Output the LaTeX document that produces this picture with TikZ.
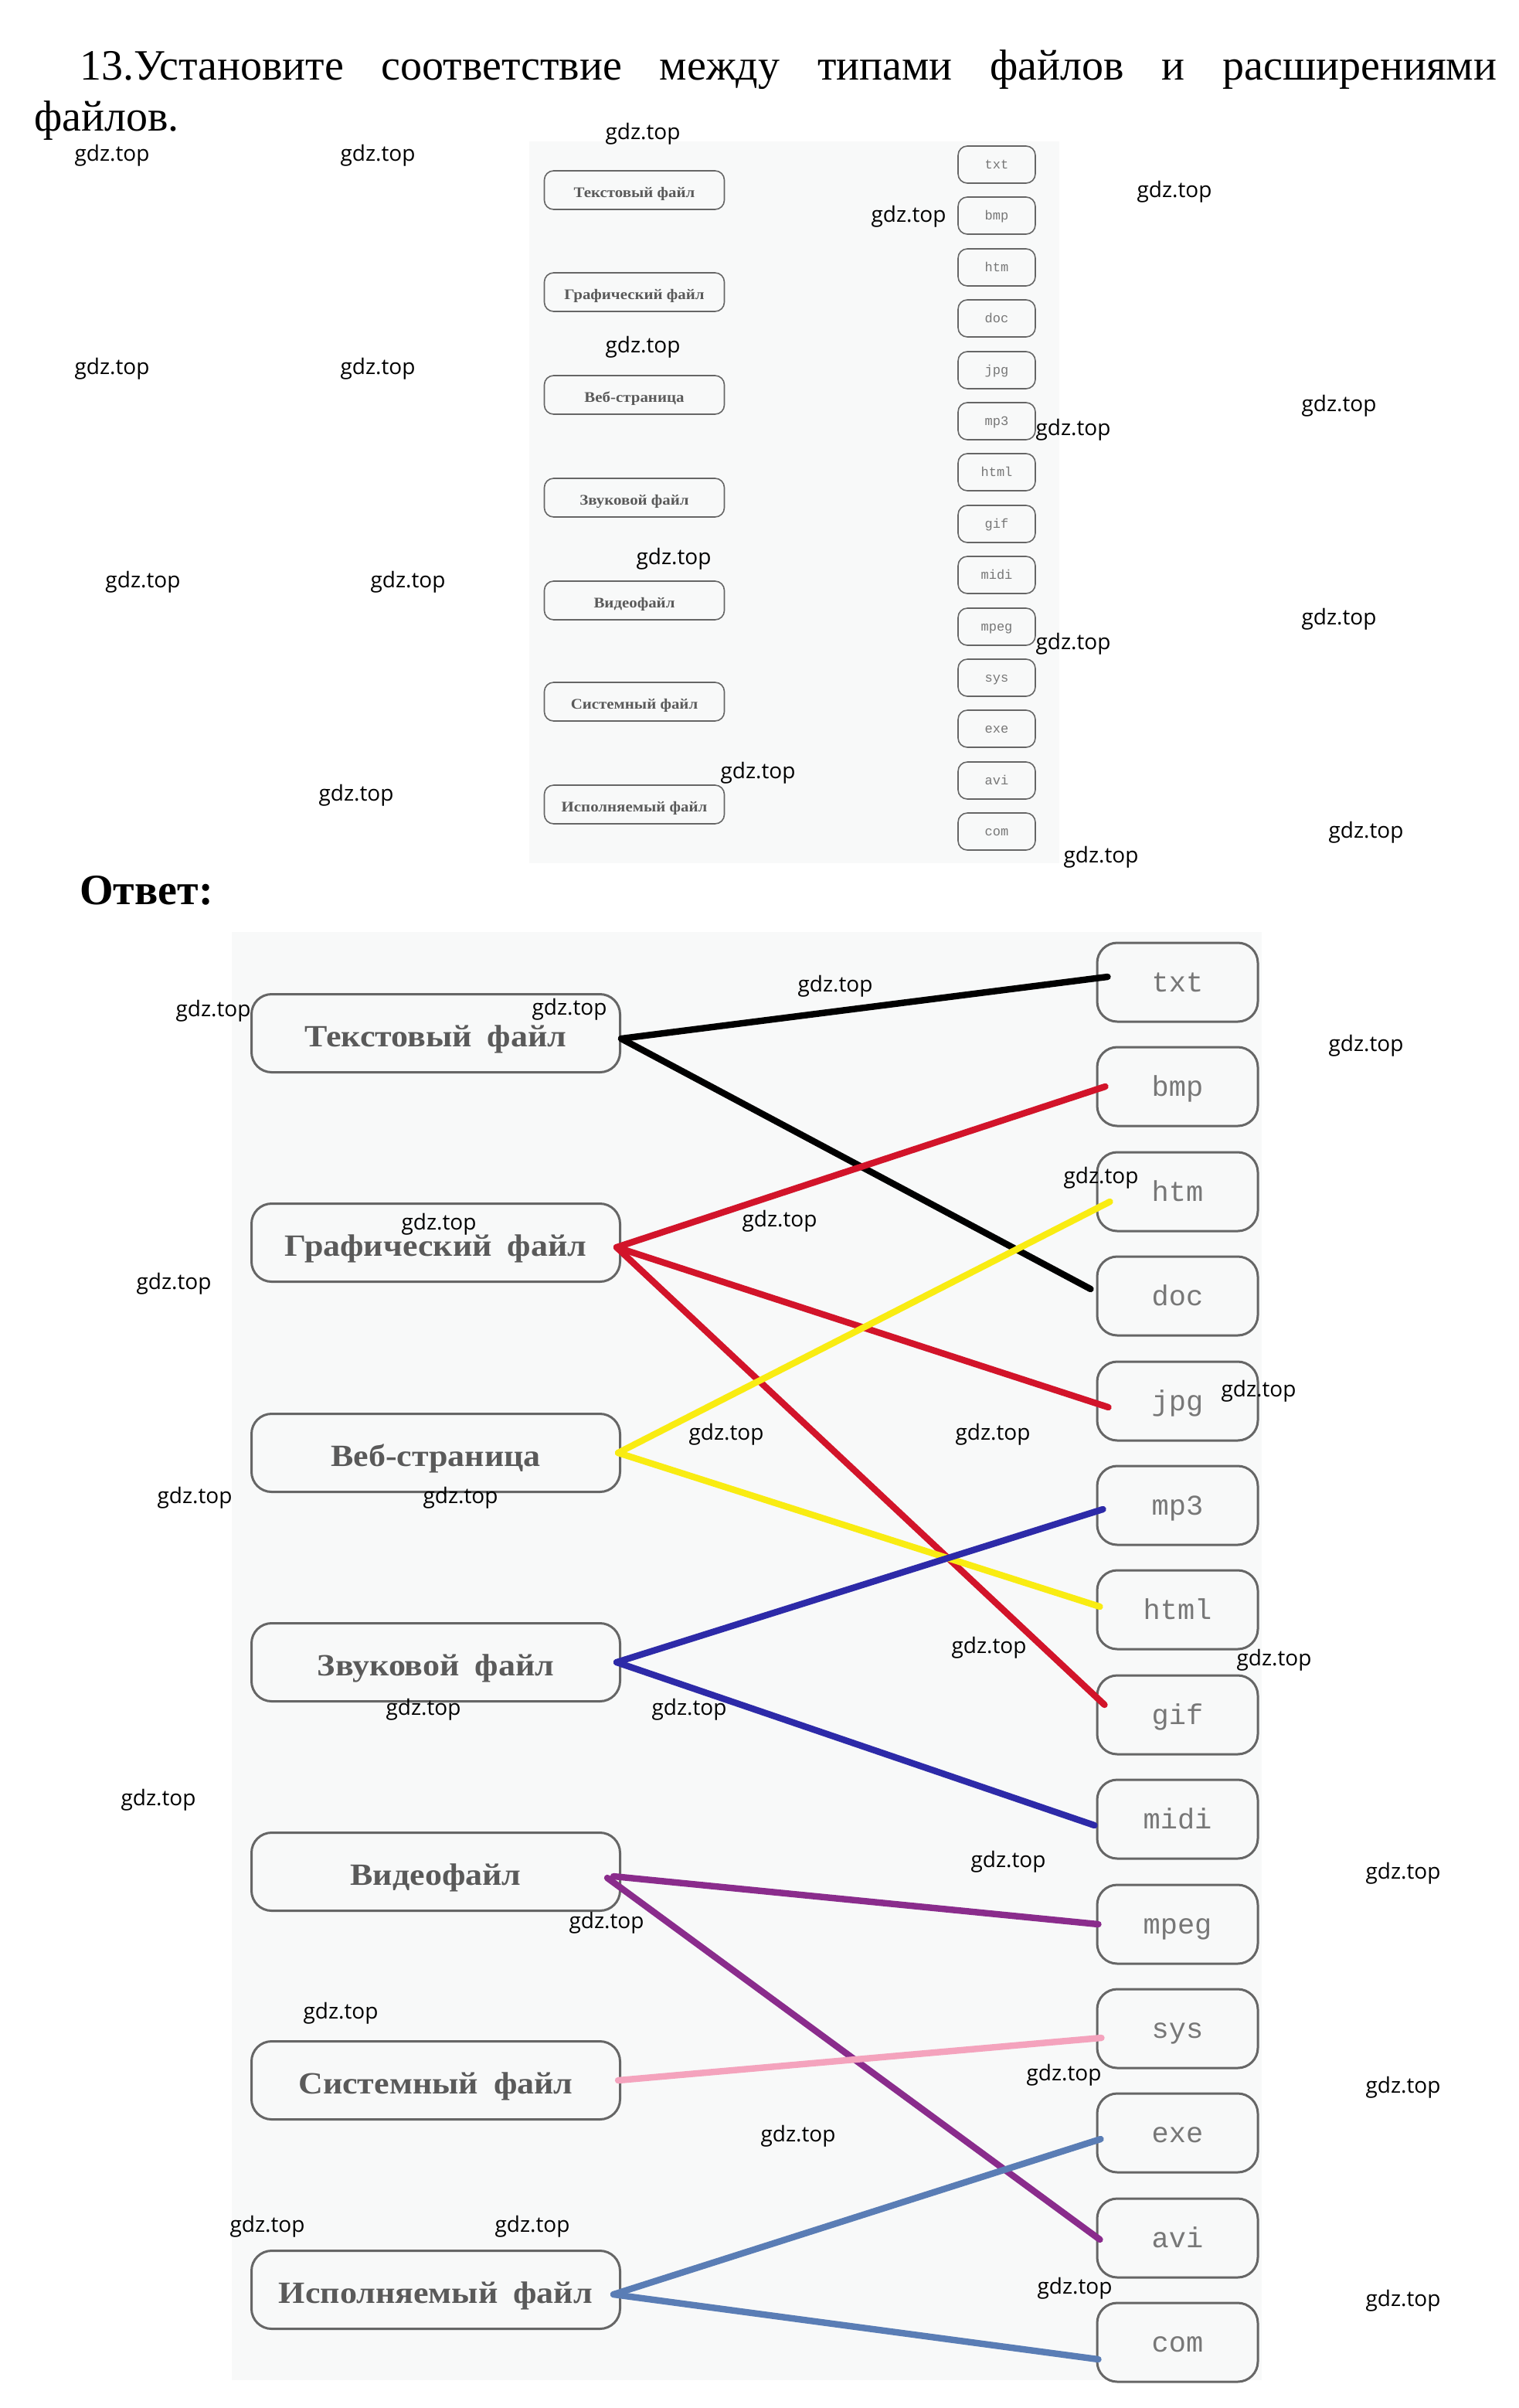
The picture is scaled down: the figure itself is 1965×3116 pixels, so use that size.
\documentclass[tikz,border=0pt]{standalone}
\usepackage{fontspec}
\setmainfont{Liberation Serif}
\newfontfamily\boxfont[FakeStretch=1.1]{Liberation Serif}
\newfontfamily\extfont{Liberation Mono}
\newfontfamily\wmfont{Open Sans}
\usepackage{xcolor}
\usepackage{tikz}
\definecolor{boxgray}{HTML}{666666}
\definecolor{txtgray}{HTML}{5A5A5A}
\definecolor{extgray}{HTML}{777777}
\definecolor{scanbg}{HTML}{F8F9F9}
\definecolor{lred}{HTML}{D2142A}
\definecolor{lyellow}{HTML}{F9EC12}
\definecolor{lblue}{HTML}{2D2AA8}
\definecolor{lpurple}{HTML}{8A2C8C}
\definecolor{lpink}{HTML}{F4A3BD}
\definecolor{lsteel}{HTML}{5A7DB5}

\begin{document}
\begin{tikzpicture}[x=0.5pt,y=-0.5pt,inner sep=0pt,
  typebox/.style={minimum height=50.5pt, minimum width=238.5pt, draw=boxgray, line width=1.5pt, rounded corners=13pt, text=txtgray, text height=17pt, text depth=0pt, font=\boxfont\bfseries\fontsize{20}{22}\selectfont, shape=rectangle},
  extbox/.style={minimum height=51pt, minimum width=104pt, draw=boxgray, line width=1.5pt, rounded corners=13pt, text=extgray, text height=12pt, text depth=0pt, font=\extfont\fontsize{18.5}{20}\selectfont, shape=rectangle},
  smalltype/.style={minimum height=25pt, minimum width=116.5pt, draw=boxgray, line width=0.8pt, rounded corners=6pt, text=txtgray, text height=9pt, text depth=0pt, font=\boxfont\bfseries\fontsize{9.5}{11}\selectfont, shape=rectangle},
  smallext/.style={minimum height=24pt, minimum width=50pt, draw=boxgray, line width=0.8pt, rounded corners=6pt, text=extgray, text height=5.5pt, text depth=0pt, font=\extfont\fontsize{8.5}{10}\selectfont, shape=rectangle},
  wm/.style={font=\wmfont\fontsize{14}{16}\selectfont},
  link/.style={line width=4.2pt, line cap=round}]
\useasboundingbox (0,0) rectangle (1965,3116);

% task text
\node (q1) [anchor=base west, at={(103,103)}, font=\fontsize{28}{33}\selectfont] {\makebox[917pt][s]{13.Установите соответствие между типами файлов и расширениями}};
\node (q2) [anchor=base west, at={(44,169)}, font=\fontsize{28}{33}\selectfont] {файлов.};

% small scan
\fill [scanbg] (685,183) rectangle (1371,1117);
\node (s0) [smalltype, at={(821,246)}] {Текстовый файл};
\node (s1) [smalltype, at={(821,378)}] {Графический файл};
\node (s2) [smalltype, at={(821,511)}] {Веб-страница};
\node (s3) [smalltype, at={(821,644)}] {Звуковой файл};
\node (s4) [smalltype, at={(821,777)}] {Видеофайл};
\node (s5) [smalltype, at={(821,908)}] {Системный файл};
\node (s6) [smalltype, at={(821,1041)}] {Исполняемый файл};
\node (x0) [smallext, at={(1290,213)}] {txt};
\node (x1) [smallext, at={(1290,279)}] {bmp};
\node (x2) [smallext, at={(1290,346)}] {htm};
\node (x3) [smallext, at={(1290,412)}] {doc};
\node (x4) [smallext, at={(1290,479)}] {jpg};
\node (x5) [smallext, at={(1290,545)}] {mp3};
\node (x6) [smallext, at={(1290,611)}] {html};
\node (x7) [smallext, at={(1290,678)}] {gif};
\node (x8) [smallext, at={(1290,744)}] {midi};
\node (x9) [smallext, at={(1290,811)}] {mpeg};
\node (x10) [smallext, at={(1290,877)}] {sys};
\node (x11) [smallext, at={(1290,943)}] {exe};
\node (x12) [smallext, at={(1290,1010)}] {avi};
\node (x13) [smallext, at={(1290,1076)}] {com};

\node (answer) [anchor=base west, at={(103,1170)}, font=\bfseries\fontsize{28}{33}\selectfont] {Ответ:};

% answer
\fill [scanbg] (300,1206) rectangle (1633,3080);
\node (t0) [typebox, at={(564,1337)}] {Текстовый\enspace файл};
\node (t1) [typebox, at={(564,1608)}] {Графический\enspace файл};
\node (t2) [typebox, at={(564,1880)}] {Веб-страница};
\node (t3) [typebox, at={(564,2151)}] {Звуковой\enspace файл};
\node (t4) [typebox, at={(564,2422)}] {Видеофайл};
\node (t5) [typebox, at={(564,2692)}] {Системный\enspace файл};
\node (t6) [typebox, at={(564,2963)}] {Исполняемый\enspace файл};
\node (e0) [extbox, at={(1524,1271)}] {txt};
\node (e1) [extbox, at={(1524,1406)}] {bmp};
\node (e2) [extbox, at={(1524,1542)}] {htm};
\node (e3) [extbox, at={(1524,1677)}] {doc};
\node (e4) [extbox, at={(1524,1813)}] {jpg};
\node (e5) [extbox, at={(1524,1948)}] {mp3};
\node (e6) [extbox, at={(1524,2083)}] {html};
\node (e7) [extbox, at={(1524,2219)}] {gif};
\node (e8) [extbox, at={(1524,2354)}] {midi};
\node (e9) [extbox, at={(1524,2490)}] {mpeg};
\node (e10) [extbox, at={(1524,2625)}] {sys};
\node (e11) [extbox, at={(1524,2760)}] {exe};
\node (e12) [extbox, at={(1524,2896)}] {avi};
\node (e13) [extbox, at={(1524,3031)}] {com};


\path [link,draw,black,]([yshift=-3.5pt]t0.east)--([xshift=7.5pt,yshift=3.5pt]e0.west);


\path [link,draw,black,]([yshift=-3.5pt]t0.east)--([xshift=-3.5pt,yshift=4.5pt]e3.west);


\path [link,draw,lred,]([xshift=-3pt,yshift=-3pt]t1.east)--([xshift=6pt]e1.west);


\path [link,draw,lred,]([xshift=-3pt,yshift=-3pt]t1.east)--([xshift=8pt,yshift=-4pt]e4.west);


\path [link,draw,lred,]([xshift=-3pt,yshift=-3pt]t1.east)--([xshift=5.5pt,yshift=6.5pt]e7.west);


\path [link,draw,lyellow,]([xshift=-2pt]t2.east)--([xshift=9pt,yshift=-6.5pt]e2.west);


\path [link,draw,lyellow,]([xshift=-2pt]t2.east)--([xshift=2.5pt,yshift=2pt]e6.west);


\path [link,draw,lblue,]([xshift=-3pt]t3.east)--([xshift=4.5pt,yshift=-2.5pt]e5.west);


\path [link,draw,lblue,]([xshift=-3pt]t3.east)--([xshift=-1pt,yshift=-4pt]e8.west);


\path [link,draw,lpurple,]([xshift=-5pt,yshift=-3pt]t4.east)--([xshift=1.5pt]e9.west);


\path [link,draw,lpurple,]([xshift=-9pt,yshift=-4pt]t4.east)--([xshift=2.5pt,yshift=-1pt]e12.west);


\path [link,draw,lpink,]([xshift=-2pt]t5.east)--([xshift=3.5pt,yshift=-6pt]e10.west);


\path [link,draw,lsteel,]([xshift=-5pt,yshift=-3pt]t6.east)--([xshift=3pt,yshift=-4pt]e11.west);


\path [link,draw,lsteel,]([xshift=-5pt,yshift=-3pt]t6.east)--([xshift=1.5pt,yshift=-11pt]e13.west);

% watermarks
\node (w0) [wm, at={(832,173)}] {gdz.top};
\node (w1) [wm, at={(145,201)}] {gdz.top};
\node (w2) [wm, at={(489,201)}] {gdz.top};
\node (w3) [wm, at={(1176,280)}] {gdz.top};
\node (w4) [wm, at={(1520,248)}] {gdz.top};
\node (w5) [wm, at={(832,449)}] {gdz.top};
\node (w6) [wm, at={(145,477)}] {gdz.top};
\node (w7) [wm, at={(489,477)}] {gdz.top};
\node (w8) [wm, at={(1733,525)}] {gdz.top};
\node (w9) [wm, at={(1389,556)}] {gdz.top};
\node (w10) [wm, at={(872,723)}] {gdz.top};
\node (w11) [wm, at={(185,753)}] {gdz.top};
\node (w12) [wm, at={(528,753)}] {gdz.top};
\node (w13) [wm, at={(1733,801)}] {gdz.top};
\node (w14) [wm, at={(1389,833)}] {gdz.top};
\node (w15) [wm, at={(981,1000)}] {gdz.top};
\node (w16) [wm, at={(461,1029)}] {gdz.top};
\node (w17) [wm, at={(1768,1077)}] {gdz.top};
\node (w18) [wm, at={(1425,1109)}] {gdz.top};
\node (w19) [wm, at={(1081,1276)}] {gdz.top};
\node (w20) [wm, at={(276,1308)}] {gdz.top};
\node (w21) [wm, at={(737,1306)}] {gdz.top};
\node (w22) [wm, at={(1768,1353)}] {gdz.top};
\node (w23) [wm, at={(1425,1524)}] {gdz.top};
\node (w24) [wm, at={(568,1584)}] {gdz.top};
\node (w25) [wm, at={(1009,1580)}] {gdz.top};
\node (w26) [wm, at={(225,1661)}] {gdz.top};
\node (w27) [wm, at={(1629,1800)}] {gdz.top};
\node (w28) [wm, at={(940,1856)}] {gdz.top};
\node (w29) [wm, at={(1285,1856)}] {gdz.top};
\node (w30) [wm, at={(252,1938)}] {gdz.top};
\node (w31) [wm, at={(596,1938)}] {gdz.top};
\node (w32) [wm, at={(1649,2148)}] {gdz.top};
\node (w33) [wm, at={(1280,2132)}] {gdz.top};
\node (w34) [wm, at={(548,2212)}] {gdz.top};
\node (w35) [wm, at={(892,2212)}] {gdz.top};
\node (w36) [wm, at={(205,2329)}] {gdz.top};
\node (w37) [wm, at={(1305,2409)}] {gdz.top};
\node (w38) [wm, at={(1816,2424)}] {gdz.top};
\node (w39) [wm, at={(785,2488)}] {gdz.top};
\node (w40) [wm, at={(441,2605)}] {gdz.top};
\node (w41) [wm, at={(1816,2701)}] {gdz.top};
\node (w42) [wm, at={(1377,2685)}] {gdz.top};
\node (w43) [wm, at={(1033,2764)}] {gdz.top};
\node (w44) [wm, at={(346,2881)}] {gdz.top};
\node (w45) [wm, at={(689,2881)}] {gdz.top};
\node (w46) [wm, at={(1391,2961)}] {gdz.top};
\node (w47) [wm, at={(1816,2977)}] {gdz.top};
\end{tikzpicture}
\end{document}
